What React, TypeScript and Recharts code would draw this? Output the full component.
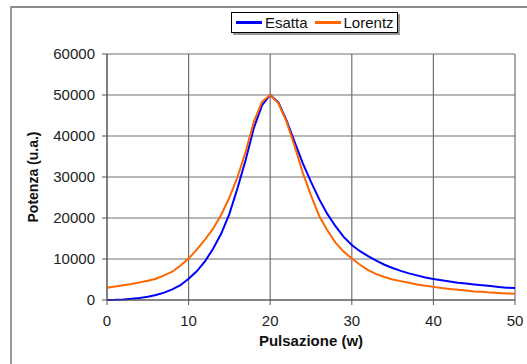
import React from 'react';
import { LineChart, Line, XAxis, YAxis, CartesianGrid, Legend } from 'recharts';

const pulsazione = [0,1,2,3,4,5,6,7,8,9,10,11,12,13,14,15,16,17,18,19,20,21,22,23,24,25,26,27,28,29,30,31,32,33,34,35,36,37,38,39,40,41,42,43,44,45,46,47,48,49,50];
const esatta = [0,50,150,300,500,800,1200,1800,2600,3600,5200,7000,9400,12500,16200,21000,27300,34200,42000,47500,50000,48200,43800,38500,33300,28800,24600,21000,18000,15400,13400,11900,10700,9600,8600,7800,7100,6500,6000,5500,5100,4800,4500,4200,4000,3800,3600,3400,3200,3000,2900];
const lorentz = [3000,3300,3600,3900,4300,4700,5200,6000,6900,8400,10100,12300,14700,17400,20800,25000,30000,36200,43500,48400,50000,48000,43500,37500,31000,25500,20500,17000,14000,11800,10100,8600,7300,6300,5600,5000,4600,4200,3800,3500,3200,2900,2700,2500,2300,2100,2000,1800,1700,1600,1500];
const xTicks = [0,10,20,30,40,50];
const yTicks = [0,10000,20000,30000,40000,50000,60000];
const seriesNames = ['Esatta', 'Lorentz'];

const data = pulsazione.map((w, i) => ({ w, Esatta: esatta[i], Lorentz: lorentz[i] }));

const FONT = '"Liberation Sans", Arial, sans-serif';

const LegendBox = (props: any) => {
  const payload = props.payload || [];
  return (
    <div style={{
      border: '1px solid #000',
      boxShadow: '2px 2px 0 #999',
      background: '#fff',
      height: 21,
      display: 'flex',
      alignItems: 'center',
      paddingLeft: 4,
      fontFamily: FONT,
      fontSize: 15,
      color: '#111',
      boxSizing: 'border-box',
      whiteSpace: 'nowrap',
    }}>
      {payload.map((p: any, i: number) => (
        <span key={i} style={{ display: 'inline-flex', alignItems: 'center', marginRight: 7 }}>
          <span style={{ display: 'inline-block', width: 26, height: 3, background: p.color, marginRight: 3 }} />
          <span>{p.value}</span>
        </span>
      ))}
    </div>
  );
};

export default function App() {
  return (
    <div style={{ position: 'absolute', left: 0, top: 0, width: 527, height: 364, background: '#fff', overflow: 'hidden' }}>
      <div style={{ position: 'absolute', left: 10, top: 6, width: 600, height: 400, borderLeft: '2px solid #9a9a9a', borderTop: '2px solid #8a8a8a' }} />
      <div style={{ position: 'absolute', left: 0, top: 0 }}>
        <LineChart width={527} height={364} data={data} margin={{ top: 54, right: 12, bottom: 34, left: 47 }}>
          <CartesianGrid stroke="#707070" strokeWidth={1.2} verticalValues={xTicks} horizontalValues={yTicks} />
          <XAxis
            dataKey="w"
            type="number"
            domain={[0, 50]}
            ticks={xTicks}
            height={30}
            tickSize={5}
            tickMargin={10}
            stroke="#555"
            tick={{ fill: '#222', fontSize: 15, fontFamily: FONT }}
            label={{ value: 'Pulsazione (w)', position: 'bottom', offset: 5, fill: '#111', fontSize: 15, fontWeight: 'bold', fontFamily: FONT }}
          />
          <YAxis
            type="number"
            domain={[0, 60000]}
            ticks={yTicks}
            width={60}
            tickSize={5}
            tickMargin={7}
            stroke="#555"
            tick={{ fill: '#222', fontSize: 15, fontFamily: FONT }}
            label={{ value: 'Potenza (u.a.)', angle: -90, position: 'center', dx: -44, fill: '#111', fontSize: 14, fontWeight: 'bold', fontFamily: FONT }}
          />
          <Legend
            layout="horizontal"
            verticalAlign="middle"
            align="center"
            content={<LegendBox />}
            wrapperStyle={{ position: 'absolute', left: 231, top: 12, width: 167, height: 22 }}
          />
          <Line dataKey="Esatta" name={seriesNames[0]} stroke="#0000ff" strokeWidth={2} dot={false} isAnimationActive={false} />
          <Line dataKey="Lorentz" name={seriesNames[1]} stroke="#ff6600" strokeWidth={2} dot={false} isAnimationActive={false} />
        </LineChart>
      </div>
    </div>
  );
}
